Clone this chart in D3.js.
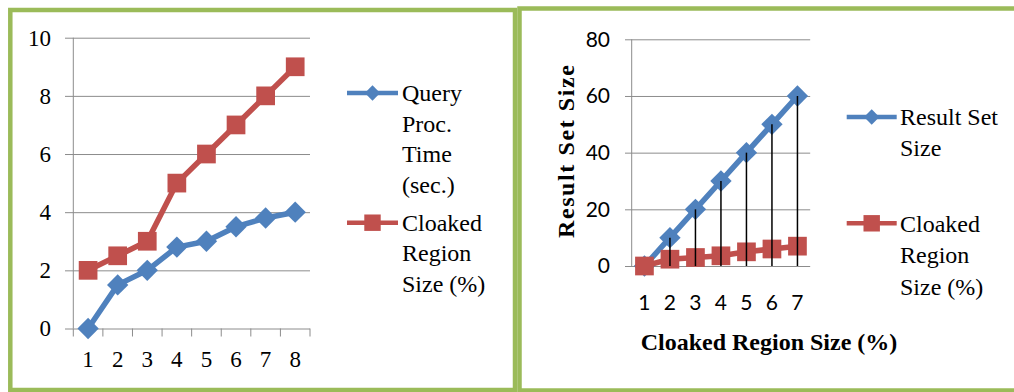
<!DOCTYPE html>
<html>
<head>
<meta charset="utf-8">
<script src="https://cdn.jsdelivr.net/npm/d3@7"></script>
<style>
  html, body { margin: 0; padding: 0; background: #fff; }
  svg { display: block; }
</style>
</head>
<body>
<svg id="chart" width="1014" height="392"></svg>
<script>
// ---- Data: left chart (query processing time vs. cloaked region size) ----
const leftCategories = [1, 2, 3, 4, 5, 6, 7, 8];
const queryProcTime = [0, 1.5, 2, 2.8, 3, 3.5, 3.8, 4];
const leftCloakedSize = [2, 2.5, 3, 5, 6, 7, 8, 9];
const leftYTicks = [0, 2, 4, 6, 8, 10];
const leftLegend = [["Query", "Proc.", "Time", "(sec.)"], ["Cloaked", "Region", "Size (%)"]];

// ---- Data: right chart (result set size vs. cloaked region size) ----
const rightCategories = [1, 2, 3, 4, 5, 6, 7];
const resultSetSize = [0, 10, 20, 30, 40, 50, 60];
const rightCloakedSize = [0, 2.4, 3, 3.6, 5, 6, 7];
const rightYTicks = [0, 20, 40, 60, 80];
const rightLegend = [["Result Set", "Size"], ["Cloaked", "Region", "Size (%)"]];
const rightYTitle = "Result Set Size";
const rightXTitle = "Cloaked Region Size (%)";

const BLUE = "#4F81BD", RED = "#C0504D", GRID = "#8c8c8c", FRAME = "#9BBB59";
const SERIF = "Liberation Serif, Times New Roman, serif";
const SANS = "Lato, Liberation Sans, sans-serif";
const LINE_W = 5.5;

const svg = d3.select("#chart");

// Panel frames
svg.append("rect").attr("x", 10.3).attr("y", 10).attr("width", 504.7).attr("height", 380)
  .attr("fill", "none").attr("stroke", FRAME).attr("stroke-width", 4.5);
svg.append("rect").attr("x", 519.5).attr("y", 8.5).attr("width", 520).attr("height", 382)
  .attr("fill", "none").attr("stroke", FRAME).attr("stroke-width", 4.5);

const diamond = d3.symbol().type(d3.symbolDiamond2);
const square = d3.symbol().type(d3.symbolSquare);

function drawSeries(g, x, y, values, cats, color, shape, size) {
  const line = d3.line().x((d, i) => x(cats[i]) + x.bandwidth() / 2).y(d => y(d));
  g.append("path").datum(values).attr("d", line)
    .attr("fill", "none").attr("stroke", color).attr("stroke-width", LINE_W)
    .attr("stroke-linejoin", "round");
  g.selectAll(null).data(values).enter().append("path")
    .attr("d", shape.size(size)())
    .attr("transform", (d, i) => `translate(${x(cats[i]) + x.bandwidth() / 2},${y(d)})`)
    .attr("fill", color);
}

function drawLegend(g, items, x0, lineX0, lineX1, rows, fontSize) {
  items.forEach((it, k) => {
    const yLine = rows[k][0];
    g.append("line").attr("x1", lineX0).attr("x2", lineX1).attr("y1", yLine).attr("y2", yLine)
      .attr("stroke", it.color).attr("stroke-width", 4.5);
    g.append("path").attr("d", it.shape.size(it.size)())
      .attr("transform", `translate(${(lineX0 + lineX1) / 2},${yLine})`).attr("fill", it.color);
    it.lines.forEach((t, j) => {
      g.append("text").attr("x", x0).attr("y", rows[k][j]).attr("dy", "0.35em")
        .style("font-family", SERIF).style("font-size", fontSize + "px").attr("fill", "#000").text(t);
    });
  });
}

// ================= Left chart =================
{
  const g = svg.append("g");
  const x = d3.scaleBand().domain(leftCategories).range([73.3, 310]).padding(0);
  const y = d3.scaleLinear().domain([0, 10]).range([328.5, 37.7]);

  // Horizontal gridlines and y labels
  const yAxis = g.append("g").attr("transform", "translate(310,0)")
    .call(d3.axisLeft(y).tickValues(leftYTicks).tickSize(245).tickPadding(14).tickFormat(d3.format("d")));
  yAxis.select(".domain").remove();
  yAxis.selectAll("line").attr("stroke", GRID);
  yAxis.selectAll("text").style("font-family", SERIF).style("font-size", "23px").attr("fill", "#000");

  // Vertical axis line
  g.append("line").attr("x1", 73.3).attr("x2", 73.3).attr("y1", y(10)).attr("y2", y(0)).attr("stroke", GRID);

  // Category axis: labels at band centres, tick marks at band edges
  const xAxis = g.append("g").attr("transform", `translate(0,${y(0)})`)
    .call(d3.axisBottom(x).tickSize(0).tickPadding(22));
  xAxis.select(".domain").remove();
  xAxis.selectAll("text").style("font-family", SERIF).style("font-size", "23px").attr("fill", "#000");
  const edges = leftCategories.map(c => x(c)).concat([x(leftCategories[leftCategories.length - 1]) + x.bandwidth()]);
  g.selectAll(null).data(edges).enter().append("line")
    .attr("x1", d => d).attr("x2", d => d).attr("y1", y(0)).attr("y2", y(0) + 8).attr("stroke", GRID);

  drawSeries(g, x, y, queryProcTime, leftCategories, BLUE, diamond, 290);
  drawSeries(g, x, y, leftCloakedSize, leftCategories, RED, square, 350);

  drawLegend(g, [
    { color: BLUE, shape: diamond, size: 150, lines: leftLegend[0] },
    { color: RED, shape: square, size: 270, lines: leftLegend[1] }
  ], 402, 347, 398, [[93, 123.5, 154, 184.5], [222.7, 253, 283.5]], 24);
}

// ================= Right chart =================
{
  const g = svg.append("g");
  const x = d3.scaleBand().domain(rightCategories).range([631.7, 810.2]).padding(0);
  const y = d3.scaleLinear().domain([0, 80]).range([266, 39.3]);

  const yAxis = g.append("g").attr("transform", "translate(810.2,0)")
    .call(d3.axisLeft(y).tickValues(rightYTicks).tickSize(185.2).tickPadding(15).tickFormat(d3.format("d")));
  yAxis.select(".domain").remove();
  yAxis.selectAll("line").attr("stroke", GRID);
  yAxis.selectAll("text").style("font-family", SANS).style("font-size", "21px").attr("fill", "#000");

  g.append("line").attr("x1", 631.7).attr("x2", 631.7).attr("y1", y(80)).attr("y2", y(0)).attr("stroke", GRID);

  const xAxis = g.append("g").attr("transform", `translate(0,${y(0)})`)
    .call(d3.axisBottom(x).tickSize(0).tickPadding(29));
  xAxis.select(".domain").remove();
  xAxis.selectAll("text").style("font-family", SANS).style("font-size", "21px").attr("fill", "#000");

  drawSeries(g, x, y, resultSetSize, rightCategories, BLUE, diamond, 290);
  drawSeries(g, x, y, rightCloakedSize, rightCategories, RED, square, 350);

  // Drop lines from the result-set points down to the category axis
  g.selectAll(null).data(resultSetSize).enter().append("line")
    .attr("x1", (d, i) => x(rightCategories[i]) + x.bandwidth() / 2)
    .attr("x2", (d, i) => x(rightCategories[i]) + x.bandwidth() / 2)
    .attr("y1", d => y(d)).attr("y2", y(0))
    .attr("stroke", "#000").attr("stroke-width", 1.5);

  // Axis titles
  g.append("text").attr("transform", "translate(566,151.5) rotate(-90)")
    .attr("text-anchor", "middle").attr("dy", "0.35em")
    .attr("textLength", 173).attr("lengthAdjust", "spacing")
    .style("font-family", SERIF).style("font-weight", "bold").style("font-size", "24px").text(rightYTitle);
  g.append("text").attr("x", 769).attr("y", 342).attr("text-anchor", "middle").attr("dy", "0.35em")
    .style("font-family", SERIF).style("font-weight", "bold").style("font-size", "24px").text(rightXTitle);

  drawLegend(g, [
    { color: BLUE, shape: diamond, size: 150, lines: rightLegend[0] },
    { color: RED, shape: square, size: 270, lines: rightLegend[1] }
  ], 900, 846.7, 896.7, [[117, 148], [223.3, 255, 286.7]], 24);
}
</script>
</body>
</html>
